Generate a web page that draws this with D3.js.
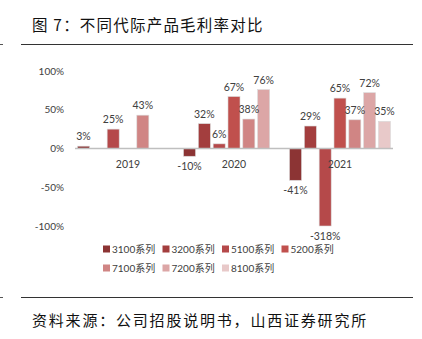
<!DOCTYPE html>
<html>
<head>
<meta charset="utf-8">
<script src="https://cdn.jsdelivr.net/npm/d3@7"></script>
<style>
  html, body { margin: 0; padding: 0; background: #fff; }
  svg { display: block; }
  text { font-family: Lato, "Noto Sans CJK SC", sans-serif; }
  .cjk { font-family: "Noto Sans CJK SC", sans-serif; }
</style>
</head>
<body>
<div id="chart"></div>
<script>
// categories, series and values (null = no bar)
const years = ["2019", "2020", "2021"];
const seriesNames = ["3100系列", "3200系列", "5100系列", "5200系列", "7100系列", "7200系列", "8100系列"];
const seriesColors = ["#8c3434", "#a33e3e", "#b5494a", "#c0504d", "#d08584", "#dca6a6", "#e8c9c9"];
const s3100 = [3, -10, -41];
const s3200 = [null, 32, 29];
const s5100 = [25, 6, -318];
const s5200 = [null, 67, 65];
const s7100 = [43, 38, 37];
const s7200 = [null, 76, 72];
const s8100 = [null, null, 35];
const yTicks = [100, 50, 0, -50, -100];

const allSeries = [s3100, s3200, s5100, s5200, s7100, s7200, s8100];

const width = 422, height = 339;

const svg = d3.select('#chart')
    .append('svg')
    .attr('width', width)
    .attr('height', height);

// titulo y lineas
svg.append('text')
    .attr('class', 'cjk')
    .attr('x', 32)
    .attr('y', 31)
    .attr('font-size', 15.5)
    .attr('letter-spacing', 1.2)
    .attr('fill', '#111')
    .text('图 7：不同代际产品毛利率对比');

svg.append('line').attr('x1', 21).attr('x2', 413).attr('y1', 44.5).attr('y2', 44.5)
    .attr('stroke', '#333').attr('stroke-width', 1.2);
svg.append('line').attr('x1', 21).attr('x2', 413).attr('y1', 297.5).attr('y2', 297.5)
    .attr('stroke', '#333').attr('stroke-width', 1.2);
svg.append('line').attr('x1', 0).attr('x2', 3).attr('y1', 44.5).attr('y2', 44.5)
    .attr('stroke', '#555').attr('stroke-width', 1);
svg.append('line').attr('x1', 0).attr('x2', 3).attr('y1', 297.5).attr('y2', 297.5)
    .attr('stroke', '#555').attr('stroke-width', 1);

svg.append('text')
    .attr('class', 'cjk')
    .attr('x', 32)
    .attr('y', 326)
    .attr('font-size', 15)
    .attr('letter-spacing', 1.8)
    .attr('fill', '#111')
    .text('资料来源：公司招股说明书，山西证券研究所');

// escalas
const x0 = d3.scaleBand()
    .domain(years)
    .range([75, 393])
    .paddingInner(0)
    .paddingOuter(0);

const x1 = d3.scaleBand()
    .domain(d3.range(seriesNames.length))
    .range([0, x0.bandwidth()])
    .paddingInner(0.19)
    .paddingOuter(0.17);

const y = d3.scaleLinear()
    .domain([-100, 100])
    .range([226, 71])
    .clamp(true);

// eje y
const yAxis = d3.axisLeft(y)
    .tickValues(yTicks)
    .tickSize(0)
    .tickPadding(0)
    .tickFormat(d => d + '%');

svg.append('g')
    .attr('transform', 'translate(64,0)')
    .call(yAxis)
    .call(g => g.select('.domain').remove())
    .call(g => g.selectAll('text')
        .attr('font-size', 10)
        .attr('fill', '#404040')
        .attr('font-family', 'Lato, sans-serif'));

// barras
const bars = [];
allSeries.forEach((vals, si) => {
    vals.forEach((v, yi) => {
        if (v !== null) bars.push({ s: si, year: years[yi], v: v });
    });
});

const gBars = svg.append('g');

gBars.selectAll('rect')
    .data(bars)
    .enter()
    .append('rect')
    .attr('x', d => x0(d.year) + x1(d.s))
    .attr('width', x1.bandwidth())
    .attr('y', d => Math.min(y(d.v), y(0)))
    .attr('height', d => Math.abs(y(d.v) - y(0)))
    .attr('fill', d => seriesColors[d.s])
    .attr('stroke', '#d9d9d9')
    .attr('stroke-width', 0.6);

// linea cero
svg.append('line')
    .attr('x1', 75).attr('x2', 393)
    .attr('y1', y(0)).attr('y2', y(0))
    .attr('stroke', '#bfbfbf')
    .attr('stroke-width', 1.5);

// etiquetas de categoria
svg.append('g')
    .selectAll('text')
    .data(years)
    .enter()
    .append('text')
    .attr('x', d => x0(d) + x0.bandwidth() / 2)
    .attr('y', 168)
    .attr('text-anchor', 'middle')
    .attr('font-size', 10.5)
    .attr('fill', '#404040')
    .text(d => d);

// etiquetas de datos
svg.append('g')
    .selectAll('text')
    .data(bars)
    .enter()
    .append('text')
    .attr('x', d => x0(d.year) + x1(d.s) + x1.bandwidth() / 2)
    .attr('y', d => d.v >= 0 ? y(d.v) - 6 : y(d.v) + 14)
    .attr('text-anchor', 'middle')
    .attr('font-size', 10.5)
    .attr('fill', '#404040')
    .text(d => d.v + '%');

// leyenda
const legend = svg.append('g');
const legendItems = legend.selectAll('g')
    .data(seriesNames)
    .enter()
    .append('g')
    .attr('transform', (d, i) => `translate(${103 + (i % 4) * 59.5}, ${i < 4 ? 249 : 268})`);

legendItems.append('rect')
    .attr('x', 0)
    .attr('y', -3.5)
    .attr('width', 7)
    .attr('height', 7)
    .attr('fill', (d, i) => seriesColors[i]);

legendItems.append('text')
    .attr('x', 9)
    .attr('y', 3.8)
    .attr('font-size', 10)
    .attr('fill', '#404040')
    .text(d => d);
</script>
</body>
</html>
